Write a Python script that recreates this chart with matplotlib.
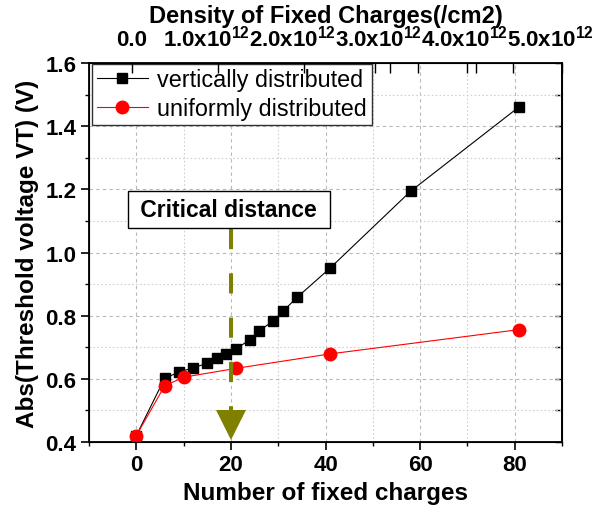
import matplotlib
matplotlib.use("Agg")
import matplotlib.pyplot as plt
from matplotlib.ticker import MultipleLocator, FixedLocator
from matplotlib.transforms import ScaledTranslation

plt.rcParams['font.family'] = ['Liberation Sans', 'DejaVu Sans']
plt.rcParams['mathtext.fontset'] = 'custom'
plt.rcParams['mathtext.rm'] = 'Liberation Sans:bold'
plt.rcParams['mathtext.bf'] = 'Liberation Sans:bold'
plt.rcParams['mathtext.it'] = 'Liberation Sans:bold'

# ---- data ----
vert_x = [0, 6, 9, 12, 15, 17, 19, 21, 24, 26, 29, 31, 34, 41, 58, 81]
vert_y = [0.42, 0.602, 0.621, 0.635, 0.649, 0.665, 0.679, 0.694, 0.724,
          0.752, 0.784, 0.814, 0.858, 0.951, 1.194, 1.462]
unif_x = [0, 6, 10, 21, 41, 81]
unif_y = [0.42, 0.578, 0.605, 0.633, 0.679, 0.756]
series_labels = ["vertically distributed", "uniformly distributed"]

x_ticks = [0, 20, 40, 60, 80]
x_ticklabels = ["0", "20", "40", "60", "80"]
y_ticks = [0.4, 0.6, 0.8, 1.0, 1.2, 1.4, 1.6]
y_ticklabels = ["0.4", "0.6", "0.8", "1.0", "1.2", "1.4", "1.6"]

top_ticks = [0.0, 1.0e12, 2.0e12, 3.0e12, 4.0e12, 5.0e12]
top_ticklabels = ["0.0", "1.0x10$^{12}$", "2.0x10$^{12}$", "3.0x10$^{12}$",
                  "4.0x10$^{12}$", "5.0x10$^{12}$"]
top_minor = [2.83e12, 3.33e12, 3.90e12, 4.43e12]

critical_distance = 20
annot_text = "Critical distance"

olive = "#808000"

fig = plt.figure(figsize=(6.05, 5.10), dpi=100)
ax = fig.add_axes([89/605, 1-443/510, (562-89)/605, (443-64)/510])

ax.set_xlim(-10, 90)
ax.set_ylim(0.4, 1.6)
ax.xaxis.set_minor_locator(MultipleLocator(10))
ax.yaxis.set_minor_locator(MultipleLocator(0.1))

ax.grid(True, which='major', linestyle=(0, (3, 3)), color='#b8b8b8', lw=0.8)
ax.grid(True, which='minor', linestyle=(0, (1.5, 2)), color='#d0d0d0', lw=0.8)
ax.set_axisbelow(True)

ax.plot(vert_x, vert_y, color='black', lw=0.8, marker='s', ms=7.2,
        mec='black', mfc='black', label=series_labels[0], zorder=3)
ax.plot(unif_x, unif_y, color='red', lw=0.8, marker='o', ms=9,
        mec='red', mfc='red', label=series_labels[1], zorder=4)

for sp in ax.spines.values():
    sp.set_linewidth(1.3)

ax.set_xticks(x_ticks)
ax.set_xticklabels(x_ticklabels, fontweight='bold')
ax.set_yticks(y_ticks)
ax.set_yticklabels(y_ticklabels, fontweight='bold')
ax.tick_params(axis='both', which='major', direction='out', length=6,
               width=1.2, labelsize=16, pad=3)
ax.tick_params(axis='both', which='minor', direction='out', length=3, width=1.0)

ax.set_xlabel("Number of fixed charges", fontsize=17.5, fontweight='bold', labelpad=4)
ax.set_ylabel("Abs(Threshold voltage VT) (V)", fontsize=17.5, fontweight='bold', labelpad=5)

# right axis: ticks inward, no labels
sec = ax.secondary_yaxis('right')
sec.set_yticks(y_ticks)
sec.yaxis.set_minor_locator(MultipleLocator(0.1))
sec.tick_params(axis='y', which='both', direction='in', length=5, width=1.0,
                labelright=False)
sec.spines['right'].set_linewidth(1.3)

# top axis
ax2 = ax.twiny()
ax2.set_xlim(-0.5e12, 5.0e12)
ax2.xaxis.set_major_locator(FixedLocator(top_ticks))
ax2.xaxis.set_minor_locator(FixedLocator(top_minor))
ax2.set_xticklabels(top_ticklabels, fontsize=16, fontweight='bold')
ax2.tick_params(axis='x', which='major', direction='in', length=7, width=1.0, pad=9)
ax2.tick_params(axis='x', which='minor', direction='in', length=7, width=1.0)
ax2.set_xlabel("Density of Fixed Charges(/cm2)", fontsize=17, fontweight='bold', labelpad=2)
off = ScaledTranslation(-12/100, 0, fig.dpi_scale_trans)
for i, lab in enumerate(ax2.get_xticklabels()):
    if i > 0:
        lab.set_transform(lab.get_transform() + off)

# critical distance annotation
ax.text(critical_distance - 0.4, 1.135, " " + annot_text + " ", fontsize=16.5,
        fontweight='bold', ha='center', va='center', zorder=6,
        bbox=dict(boxstyle='square,pad=0.3', fc='white', ec='black', lw=1.0))
ax.plot([critical_distance, critical_distance], [1.075, 0.47], color=olive, lw=2.9,
        linestyle=(0, (5, 6)), zorder=5, solid_capstyle='butt')
ax.plot([critical_distance], [0.454], marker='v', ms=21, color=olive, mew=0,
        zorder=5, clip_on=False)

leg = ax.legend(loc='upper left', bbox_to_anchor=(0.006, 0.998), borderaxespad=0,
                fontsize=16.8, handlelength=2.2, handletextpad=0.4, labelspacing=0.25,
                borderpad=0.2, fancybox=False, framealpha=1, edgecolor='#303030')
leg.get_frame().set_linewidth(1.0)
leg.set_zorder(10)

fig.savefig("out.png", dpi=100)
